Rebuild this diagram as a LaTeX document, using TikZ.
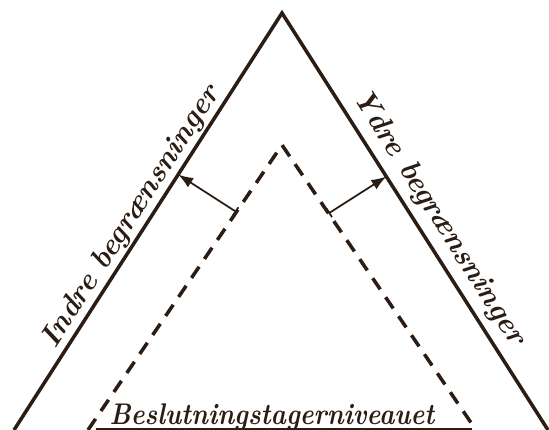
\documentclass[tikz,border=0pt]{standalone}
\usepackage{fontspec}
\usepackage{tikz}
\usetikzlibrary{arrows.meta, calc}
\definecolor{kink}{HTML}{2B1D14}

\tikzset{
  outer/.style={draw=kink, line width=2pt},
  inner/.style={draw=kink, line width=2pt, dash pattern=on 0.27cm off 0.19cm},
  push/.style={draw=kink, line width=1pt, {Bar[width=0.2cm]}-{Latex[length=0.3cm, width=0.22cm]}},
  sidelabel/.style={text=kink, font=\fontsize{17}{20}\selectfont\bfseries\itshape\addfontfeatures{FakeBold=2.5}, inner sep=1.5pt},
  levellabel/.style={text=kink, font=\fontsize{17}{20}\selectfont\bfseries\itshape\addfontfeatures{LetterSpace=1,FakeBold=2.5}, inner sep=0pt}
}

\begin{document}
\begin{tikzpicture}[x=0.02cm, y=-0.02cm]
\useasboundingbox (0,0) rectangle (549,430);
\fill[white] (0,0) rectangle (549,430);
% outer triangle
\coordinate (top) at (282,13);
\coordinate (lbot) at (14,430);
\coordinate (rbot) at (548,430);
\draw[outer] (lbot) -- (top) -- (rbot);
% dashed triangle
\coordinate (itop) at (282,145);
\coordinate (ilbot) at (88,430);
\coordinate (irbot) at (476,430);
\draw[inner] (ilbot) -- (itop) -- (irbot);
% side labels
\path (lbot) -- (top) node[sidelabel, pos=0.49, sloped, above] (indre) {Indre begrænsninger};
\path (top) -- (rbot) node[sidelabel, pos=0.52, sloped, above=3pt] (ydre) {Ydre begrænsninger};
% arrows from the dashed to the solid lines
\coordinate (lfoot) at ($(itop)!0.235!(ilbot)$);
\coordinate (rfoot) at ($(itop)!0.24!(irbot)$);
\coordinate (lhead) at ($(top)!(lfoot)!(lbot)$);
\coordinate (rhead) at ($(top)!(rfoot)!(rbot)$);
\draw[push] (lfoot) -- (lhead);
\draw[push] (rfoot) -- (rhead);
% bottom level
\node[levellabel, anchor=base] (level) at (272,424) {\scalebox{0.87}[1]{Beslutningstagerniveauet}};
\coordinate (lfloor) at (96,429);
\coordinate (rfloor) at (472,429);
\draw[kink, line width=1.4pt] (lfloor) -- (rfloor);
\end{tikzpicture}
\end{document}
